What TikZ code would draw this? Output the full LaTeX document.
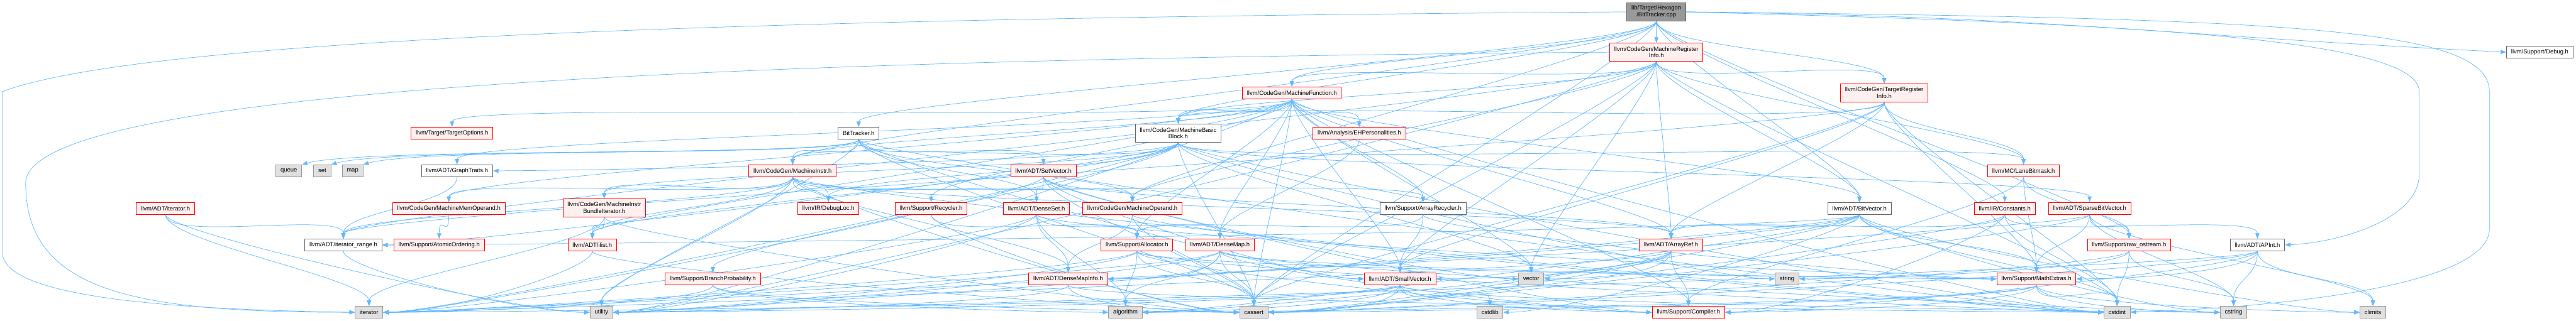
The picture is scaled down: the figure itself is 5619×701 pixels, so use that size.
\documentclass[tikz,border=0pt]{standalone}
\usepackage{fontspec}
\setmainfont{Liberation Sans}
\usepackage{tikz}
\usetikzlibrary{arrows.meta}
\definecolor{depblue}{HTML}{63B8FF}
\definecolor{truncfill}{HTML}{FFF0F0}
\definecolor{sysfill}{HTML}{E0E0E0}
\definecolor{sysline}{HTML}{999999}
\definecolor{fileline}{HTML}{666666}
\definecolor{rootfill}{HTML}{999999}
\pgfdeclarelayer{edges}
\pgfsetlayers{edges,main}
\tikzset{
  fileblock/.style = {draw=fileline, fill=white, rectangle, line width=1.3pt,
    minimum height=26pt, inner xsep=10pt, inner ysep=2pt,
    font=\fontsize{13}{15}\selectfont},
  redblock/.style = {fileblock, draw=red, fill=truncfill},
  sysblock/.style = {fileblock, draw=sysline, fill=sysfill},
  rootblock/.style = {fileblock, fill=rootfill},
  twolines/.style = {align=center, minimum height=40pt},
  dep/.style = {draw=depblue, line width=1pt, -{Triangle[length=12pt, width=9pt]}},
  godown/.style = {to path={(\tikztostart.south) .. controls +(0,60) and +(0,-60) .. (\tikztotarget.north)}},
  fromleft/.style = {to path={(\tikztostart.south) .. controls +(0,40) and +(-150,0) .. (\tikztotarget.west)}},
  fromright/.style = {to path={(\tikztostart.south) .. controls +(0,40) and +(150,0) .. (\tikztotarget.east)}},
  fromupright/.style = {to path={(\tikztostart.south) .. controls +(0,40) and +(140,-40) .. (\tikztotarget.north east)}}
}

\begin{document}
\begin{tikzpicture}[x=1pt, y=-1pt]
    \useasboundingbox (0,0) rectangle (5619,701);

    % Place the nodes, row by row
    \node [rootblock, twolines] (root) at (3613,26) {lib/Target/Hexagon\\/BitTracker.cpp};

    \node [redblock, twolines] (mri) at (3613,114) {llvm/CodeGen/MachineRegister\\Info.h};
    \node [fileblock] (debug) at (5540,114) {llvm/Support/Debug.h};

    \node [redblock] (mf) at (2818,203) {llvm/CodeGen/MachineFunction.h};
    \node [redblock, twolines] (tri) at (4110,203) {llvm/CodeGen/TargetRegister\\Info.h};

    \node [redblock] (topt) at (986,291) {llvm/Target/TargetOptions.h};
    \node [fileblock] (bth) at (1873,291) {BitTracker.h};
    \node [fileblock, twolines] (mbb) at (2570,291) {llvm/CodeGen/MachineBasic\\Block.h};
    \node [redblock] (ehp) at (2965,291) {llvm/Analysis/EHPersonalities.h};

    \node [sysblock] (queue) at (630,373) {queue};
    \node [sysblock] (set) at (703,373) {set};
    \node [sysblock] (map) at (769,373) {map};
    \node [fileblock] (gtraits) at (997,373) {llvm/ADT/GraphTraits.h};
    \node [redblock] (mi) at (1729,373) {llvm/CodeGen/MachineInstr.h};
    \node [redblock] (setvec) at (2276,373) {llvm/ADT/SetVector.h};
    \node [redblock] (lanebm) at (4414,373) {llvm/MC/LaneBitmask.h};

    \node [redblock] (iterh) at (361,455) {llvm/ADT/iterator.h};
    \node [redblock] (mmo) at (979,455) {llvm/CodeGen/MachineMemOperand.h};
    \node [redblock, twolines] (mibi) at (1318,454) {llvm/CodeGen/MachineInstr\\BundleIterator.h};
    \node [redblock] (dloc) at (1807,455) {llvm/IR/DebugLoc.h};
    \node [redblock] (recyc) at (2031,455) {llvm/Support/Recycler.h};
    \node [redblock] (dset) at (2261,455) {llvm/ADT/DenseSet.h};
    \node [redblock] (mop) at (2470,455) {llvm/CodeGen/MachineOperand.h};
    \node [fileblock] (arecyc) at (3104,455) {llvm/Support/ArrayRecycler.h};
    \node [fileblock] (bvec) at (4056,455) {llvm/ADT/BitVector.h};
    \node [redblock] (const) at (4373,455) {llvm/IR/Constants.h};
    \node [redblock] (sbv) at (4558,455) {llvm/ADT/SparseBitVector.h};

    \node [fileblock] (itrange) at (749,535) {llvm/ADT/iterator\_range.h};
    \node [redblock] (atomic) at (958,535) {llvm/Support/AtomicOrdering.h};
    \node [redblock] (ilist) at (1292,535) {llvm/ADT/ilist.h};
    \node [redblock] (alloc) at (2480,535) {llvm/Support/Allocator.h};
    \node [redblock] (dmap) at (2661,535) {llvm/ADT/DenseMap.h};
    \node [redblock] (aref) at (3645,535) {llvm/ADT/ArrayRef.h};
    \node [redblock] (ros) at (4644,535) {llvm/Support/raw\_ostream.h};
    \node [fileblock] (apint) at (4924,535) {llvm/ADT/APInt.h};

    \node [redblock] (bprob) at (1555,609) {llvm/Support/BranchProbability.h};
    \node [redblock] (dmi) at (2330,609) {llvm/ADT/DenseMapInfo.h};
    \node [redblock] (svec) at (3054,609) {llvm/ADT/SmallVector.h};
    \node [sysblock] (vector) at (3340,609) {vector};
    \node [sysblock] (string) at (3898,609) {string};
    \node [redblock] (mathx) at (4442,609) {llvm/Support/MathExtras.h};

    \node [sysblock] (iterator) at (805,682) {iterator};
    \node [sysblock] (utility) at (1312,682) {utility};
    \node [sysblock] (algorithm) at (2455,682) {algorithm};
    \node [sysblock] (cassert) at (2735,682) {cassert};
    \node [sysblock] (cstdlib) at (3250,682) {cstdlib};
    \node [redblock] (compiler) at (3683,682) {llvm/Support/Compiler.h};
    \node [sysblock] (cstdint) at (4618,682) {cstdint};
    \node [sysblock] (cstring) at (4872,682) {cstring};
    \node [sysblock] (climits) at (5176,682) {climits};

    \begin{pgfonlayer}{edges}
    % includes of the source file
    \foreach \dst in {mri,mf,tri,bth,mbb,mi,mop,bvec,const,ros,cassert}
      \draw [dep] (root) to[godown] (\dst);
    \draw [dep] (root.east) .. controls +(800,10) and +(-800,-40) .. (debug.west);
    \draw [dep] (root.west) .. controls (1500,40) and (300,90) .. (5,200)
      -- (5,550) .. controls (5,640) and (300,675) .. (iterator.west);
    \draw [dep] (root.east) .. controls (5000,40) and (5430,60) .. (5430,200)
      -- (5430,500) .. controls (5430,620) and (5000,670) .. (cstdint.east);
    \draw [dep] (root.east) .. controls (4600,50) and (5277,80) .. (5277,200)
      -- (5277,380) .. controls (5277,480) and (5100,530) .. (apint.east);

    % MachineRegisterInfo.h
    \foreach \dst in {mf,mbb,mop,tri,lanebm,aref,bvec,svec,itrange,vector,cassert,cstdint}
      \draw [dep] (mri) to[godown] (\dst);
    \draw [dep] (mri) to[fromright] (utility);
    \draw [dep] (mri.west) .. controls (1500,130) and (56,200) .. (56,400)
      .. controls (56,640) and (300,682) .. (iterator.west);

    % TargetRegisterInfo.h
    \foreach \dst in {aref,svec,itrange,mbb,lanebm,mathx,cassert,cstdint}
      \draw [dep] (tri) to[godown] (\dst);

    % MachineFunction.h
    \foreach \dst in {aref,bvec,dmap,svec,ilist,ehp,mbb,mi,mmo,alloc,arecyc,recyc,topt,gtraits,vector,compiler,cassert}
      \draw [dep] (mf) to[godown] (\dst);
    \draw [dep] (mf) to[fromleft] (cstdint);
    \draw [dep] (mf) to[fromright] (utility);

    % BitTracker.h
    \foreach \dst in {dset,setvec,mi,mop,cassert,utility}
      \draw [dep] (bth) to[godown] (\dst);
    \foreach \dst in {svec,cstdint}
      \draw [dep] (bth) to[fromleft] (\dst);
    \foreach \dst in {queue,set,map}
      \draw [dep] (bth) to[fromupright] (\dst);

    % MachineBasicBlock.h
    \foreach \dst in {sbv,ilist,mi,mibi,dloc,lanebm,bprob,vector,cassert}
      \draw [dep] (mbb) to[godown] (\dst);
    \foreach \dst in {cstdint,string}
      \draw [dep] (mbb) to[fromleft] (\dst);
    \foreach \dst in {gtraits,itrange,iterator}
      \draw [dep] (mbb) to[fromright] (\dst);

    % MachineInstr.h
    \foreach \dst in {dmi,arecyc,ilist,itrange,mmo,mop,mibi,dloc,aref,utility}
      \draw [dep] (mi) to[godown] (\dst);
    \foreach \dst in {cassert,cstdint}
      \draw [dep] (mi) to[fromleft] (\dst);

    % ADT headers
    \foreach \dst in {aref,dset,cassert}
      \draw [dep] (setvec) to[godown] (\dst);
    \foreach \dst in {svec,compiler,vector}
      \draw [dep] (setvec) to[fromleft] (\dst);
    \draw [dep] (setvec) to[fromright] (iterator);

    \foreach \dst in {dmap,dmi,algorithm}
      \draw [dep] (dset) to[godown] (\dst);
    \draw [dep] (dset) to[fromleft] (mathx);
    \foreach \dst in {iterator,utility}
      \draw [dep] (dset) to[fromright] (\dst);

    \foreach \dst in {dmi,cassert}
      \draw [dep] (mop) to[godown] (\dst);
    \draw [dep] (mop) to[fromleft] (cstdint);

    \draw [dep] (mmo) to[godown] (atomic);

    \foreach \dst in {ilist,iterator}
      \draw [dep] (mibi) to[godown] (\dst);
    \draw [dep] (mibi) to[fromleft] (cassert);

    \draw [dep] (recyc) to[godown] (alloc);
    \draw [dep] (recyc) to[fromleft] (cassert);

    \foreach \dst in {svec,alloc}
      \draw [dep] (arecyc) to[godown] (\dst);
    \draw [dep] (arecyc) to[fromleft] (mathx);

    \foreach \dst in {aref,mathx,cstdint}
      \draw [dep] (bvec) to[godown] (\dst);
    \foreach \dst in {climits,cstring}
      \draw [dep] (bvec) to[fromleft] (\dst);
    \foreach \dst in {dmi,itrange,algorithm,cassert,cstdlib,utility}
      \draw [dep] (bvec) to[fromright] (\dst);

    \foreach \dst in {apint,aref,cstdint}
      \draw [dep] (const) to[godown] (\dst);
    \foreach \dst in {compiler,cassert}
      \draw [dep] (const) to[fromright] (\dst);

    \foreach \dst in {mathx,ros,climits,cstring}
      \draw [dep] (sbv) to[godown] (\dst);
    \foreach \dst in {cassert,iterator}
      \draw [dep] (sbv) to[fromright] (\dst);

    \foreach \dst in {compiler,mathx,ros}
      \draw [dep] (lanebm) to[godown] (\dst);

    \foreach \dst in {itrange,iterator}
      \draw [dep] (iterh) to[godown] (\dst);
    \draw [dep] (iterh) to[fromleft] (utility);
    \draw [dep] (gtraits) to[godown] (itrange);
    \draw [dep] (itrange) to[fromleft] (utility);
    \draw [dep] (ehp) to[godown] (dmap);

    \draw [dep] (ilist) to[fromleft] (cassert);
    \draw [dep] (ilist) to[fromright] (iterator);

    \foreach \dst in {algorithm,cassert}
      \draw [dep] (alloc) to[godown] (\dst);
    \foreach \dst in {compiler,mathx,cstdint}
      \draw [dep] (alloc) to[fromleft] (\dst);
    \foreach \dst in {iterator,utility}
      \draw [dep] (alloc) to[fromright] (\dst);

    \foreach \dst in {algorithm,cassert}
      \draw [dep] (dmap) to[godown] (\dst);
    \foreach \dst in {compiler,mathx,cstring}
      \draw [dep] (dmap) to[fromleft] (\dst);
    \foreach \dst in {dmi,iterator,utility}
      \draw [dep] (dmap) to[fromright] (\dst);

    \draw [dep] (aref) to[godown] (compiler);
    \foreach \dst in {svec,algorithm,cassert,iterator,vector}
      \draw [dep] (aref) to[fromright] (\dst);

    \foreach \dst in {cstdint,cstring}
      \draw [dep] (ros) to[godown] (\dst);
    \foreach \dst in {cassert,string}
      \draw [dep] (ros) to[fromright] (\dst);

    \foreach \dst in {climits,cstring}
      \draw [dep] (apint) to[godown] (\dst);
    \foreach \dst in {compiler,mathx,cassert,utility}
      \draw [dep] (apint) to[fromright] (\dst);

    \foreach \dst in {algorithm,cassert}
      \draw [dep] (bprob) to[fromleft] (\dst);
    \draw [dep] (bprob) to[fromright] (iterator);

    \foreach \dst in {cassert,cstdint}
      \draw [dep] (dmi) to[fromleft] (\dst);
    \draw [dep] (dmi) to[fromright] (utility);

    \draw [dep] (svec) to[godown] (cstdlib);
    \foreach \dst in {compiler,cstring}
      \draw [dep] (svec) to[fromleft] (\dst);
    \foreach \dst in {algorithm,cassert,iterator,utility}
      \draw [dep] (svec) to[fromright] (\dst);

    \draw [dep] (mathx) to[godown] (cstdint);
    \foreach \dst in {climits,cstring}
      \draw [dep] (mathx) to[fromleft] (\dst);
    \foreach \dst in {compiler,algorithm,cassert}
      \draw [dep] (mathx) to[fromright] (\dst);
    \end{pgfonlayer}

\end{tikzpicture}
\end{document}
